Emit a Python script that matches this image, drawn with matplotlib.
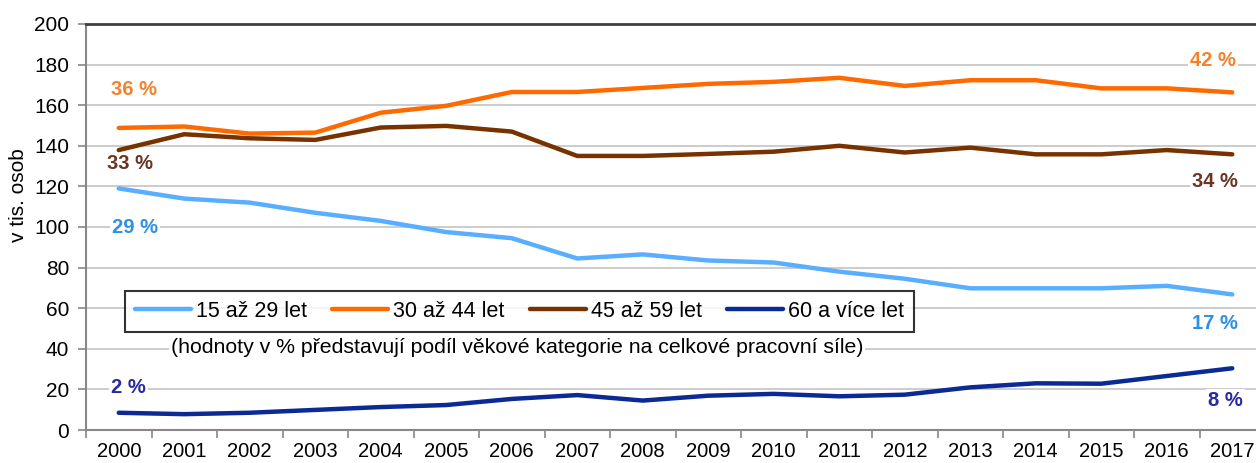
import numpy as np
import matplotlib
matplotlib.use('Agg')
import matplotlib.pyplot as plt

plt.rcParams['font.family'] = ['Liberation Sans', 'DejaVu Sans']

years = [str(y) for y in range(2000, 2018)]

# tis. osob
age_15_29 = [119, 114, 112, 107, 103, 97.5, 94.5, 84.5, 86.5, 83.5, 82.5, 78, 74.5, 69.8, 69.8, 69.8, 71, 66.8]
age_30_44 = [148.8, 149.5, 146, 146.5, 156.3, 159.7, 166.5, 166.5, 168.5, 170.5, 171.5, 173.5, 169.5, 172.3, 172.3, 168.3, 168.3, 166.3]
age_45_59 = [137.9, 145.7, 143.7, 142.9, 149, 149.8, 147, 135, 135, 136, 137.1, 140, 136.7, 139.1, 135.8, 135.8, 137.9, 135.8]
age_60 = [8.5, 7.8, 8.5, 9.9, 11.3, 12.3, 15.3, 17.2, 14.5, 16.9, 17.8, 16.6, 17.4, 21, 23, 22.8, 26.6, 30.4]

series_names = ['15 až 29 let', '30 až 44 let', '45 až 59 let', '60 a více let']
line_colors = ['#5AAEFF', '#FF6A00', '#783200', '#0B2A94']
label_colors = ['#2F8FE3', '#F4822A', '#6A3522', '#2A2AA0']

start_pct = ['29 %', '36 %', '33 %', '2 %']
end_pct = ['17 %', '42 %', '34 %', '8 %']
start_pos = [(0.25, 99.8), (0.23, 167.7), (0.17, 131.5), (0.15, 20.9)]
end_pos = [(16.73, 52.5), (16.71, 182), (16.74, 122.4), (16.9, 14.5)]

fig = plt.figure(figsize=(12.56, 4.63), dpi=100)
ax = fig.add_axes([86 / 1256, 1 - 430 / 463, 1179 / 1256, 406 / 463])

x = np.arange(len(years))
for vals, name, c in zip([age_15_29, age_30_44, age_45_59, age_60], series_names, line_colors):
    ax.plot(x, vals, color=c, lw=3.2, label=name, solid_capstyle='round', zorder=3)

ax.set_xlim(-0.5, len(years) - 0.5)
ax.set_ylim(0, 200)
ax.set_yticks(range(0, 201, 20))
ax.set_xticks(x)
ax.set_xticklabels(years)
ax.set_xticks(np.arange(-0.5, len(years), 1), minor=True)
ax.tick_params(axis='x', which='major', length=0, labelsize=14.5, pad=8.5)
ax.tick_params(axis='x', which='minor', length=6, color='#888888', width=1.2)
ax.tick_params(axis='y', length=6, color='#888888', width=1.2, labelsize=15, pad=6)

ax.grid(axis='y', color='#C8C8C8', lw=1.3, zorder=0)
for s in ['left', 'bottom']:
    ax.spines[s].set_color('#888888')
    ax.spines[s].set_linewidth(1.5)
ax.spines['right'].set_visible(False)
ax.spines['top'].set_color('#404040')
ax.spines['top'].set_linewidth(2)

ax.set_ylabel('v tis. osob', fontsize=15)
ax.yaxis.set_label_coords(-0.049, 0.579)

box = dict(facecolor='white', edgecolor='none', pad=1.5)
for (px, py), t, c in zip(start_pos, start_pct, label_colors):
    ax.text(px, py, t, color=c, fontsize=14.5, fontweight='bold', ha='center', va='center', bbox=box, zorder=2)
for (px, py), t, c in zip(end_pos, end_pct, label_colors):
    ax.text(px, py, t, color=c, fontsize=14.5, fontweight='bold', ha='center', va='center', bbox=box, zorder=2)

leg = ax.legend(loc='center', bbox_to_anchor=(0.3677, 0.292), ncol=4, fontsize=15.5, frameon=True,
                fancybox=False, edgecolor='black', handlelength=2.6, columnspacing=1.15, handletextpad=0.25,
                borderpad=0.45)
leg.get_frame().set_linewidth(1.5)

ax.text(0.3655, 0.202, '(hodnoty v % představují podíl věkové kategorie na celkové pracovní síle)',
        transform=ax.transAxes, ha='center', va='center', fontsize=15.3, bbox=box, zorder=2)

fig.savefig('out.png', dpi=100)
